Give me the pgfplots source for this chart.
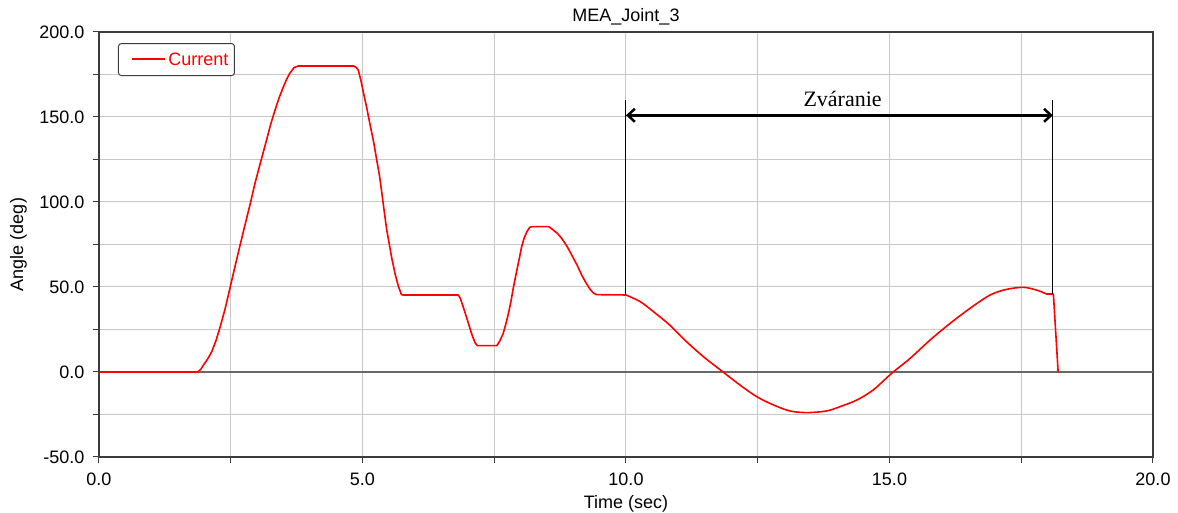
\documentclass[border=0pt]{standalone}
\usepackage{fontspec}
\setmainfont{Liberation Sans}
\newfontfamily\seriffont{Liberation Serif}
\usepackage{pgfplots}
\pgfplotsset{compat=1.18}
\usetikzlibrary{arrows.meta}
\definecolor{gridgray}{RGB}{200,200,200}
\definecolor{framegray}{RGB}{60,60,60}
\definecolor{zerogray}{RGB}{105,105,105}
\definecolor{curvered}{RGB}{255,0,0}
\begin{document}
\begin{tikzpicture}
\begin{axis}[
  at={(0,0)}, anchor=south west,
  scale only axis, width=1054pt, height=425pt,
  xmin=0, xmax=20, ymin=-50, ymax=200,
  xtick={0,5,10,15,20}, minor xtick={2.5,7.5,12.5,17.5},
  ytick={-50,0,50,100,150,200}, minor ytick={-25,25,75,125,175},
  grid=both,
  major grid style={gridgray, line width=1pt},
  minor grid style={gridgray, line width=1pt},
  tick pos=left, tick align=outside,
  major tick length=6pt, minor tick length=6pt,
  every tick/.style={framegray, line width=1pt},
  axis line style={framegray, line width=1.5pt},
  font=\fontsize{18}{21}\selectfont,
  ticklabel style={font=\fontsize{18}{21}\selectfont},
  yticklabel style={xshift=-5pt},
  xticklabel style={yshift=-6pt},
  /pgf/number format/assume math mode=true,
  /pgf/number format/fixed,
  /pgf/number format/fixed zerofill,
  /pgf/number format/precision=1,
  title={MEA\_Joint\_3},
  title style={at={(axis description cs:0.5,1)}, anchor=base, yshift=4.5pt, font=\fontsize{18}{21}\selectfont},
  xlabel={Time (sec)},
  xlabel style={at={(axis description cs:0.5,0)}, anchor=base, yshift=-52pt, font=\fontsize{18}{21}\selectfont},
  ylabel={Angle (deg)},
  ylabel style={at={(axis description cs:-0.0764,0.5)}, anchor=center, font=\fontsize{18}{21}\selectfont},
  legend style={at={(0.018,0.974)}, anchor=north west, draw=framegray, line width=1pt,
    rounded corners=3pt, text=curvered, font=\fontsize{18}{21}\selectfont,
    inner xsep=4pt, inner ysep=7pt},
  legend image code/.code={},
]
\draw[zerogray, line width=1.5pt] (axis cs:0,0) -- (axis cs:20,0);
\addplot[curvered, line width=1.6pt, line join=round, line cap=round] coordinates {
(0,0) (1.87,0) (1.93,1.5) (1.98,4) (2.06,7.5) (2.14,12) (2.22,18.5) (2.30,26.6)
(2.40,38) (2.49,50) (2.58,62) (2.67,73.7) (2.77,86.5) (2.87,99) (2.96,111)
(3.06,122.7) (3.18,136.5) (3.26,146) (3.34,154) (3.42,161.5) (3.50,167.8)
(3.56,172.2) (3.62,175.7) (3.70,179) (3.78,180) (4.83,180) (4.88,179.2)
(4.92,177.6) (4.97,171.5) (5.02,164) (5.08,155.5) (5.14,146) (5.21,135.5)
(5.27,124.7) (5.32,116) (5.36,107) (5.41,95) (5.46,83.5) (5.51,75) (5.55,67.8)
(5.62,57.5) (5.68,50.5) (5.74,45.5) (5.77,45.3) (6.82,45.3) (6.86,43) (6.91,38.4)
(6.96,33.5) (7.01,28.6) (7.05,24.5) (7.09,20.8) (7.14,17) (7.18,15.5) (7.55,15.5)
(7.61,18.5) (7.67,22.7) (7.72,28.3) (7.77,34.5) (7.82,42) (7.86,49.2) (7.93,60)
(7.98,67.5) (8.02,73.7) (8.07,79) (8.12,82.5) (8.17,85) (8.21,85.5) (8.53,85.5)
(8.57,84.8) (8.62,83.5) (8.70,81.5) (8.78,78.6) (8.88,74) (8.97,68.8) (9.07,63)
(9.16,57) (9.24,52.5) (9.32,48.6) (9.38,46.5) (9.44,45.5) (10.0,45.3)
};
\addlegendentry{\hspace{8pt}\textcolor{curvered}{\rule[5.5pt]{33pt}{1.6pt}}\hspace{3pt}Current\hspace{5pt}}
\addplot[curvered, line width=1.6pt, line join=round, line cap=round, smooth, tension=0.5, forget plot] coordinates {
(10.0,45.3)
(10.27,41.4) (10.52,35.5) (10.83,27.6) (11.15,17.8) (11.47,9) (11.85,-0.2)
(12.16,-7.6) (12.48,-14.5) (12.80,-19.4) (13.11,-22.9) (13.43,-23.9)
(13.81,-22.9) (14.06,-20.4) (14.38,-16.5) (14.69,-10.6) (15.04,-0.8)
(15.39,8) (15.77,18.8) (16.15,28.6) (16.53,37.5) (16.91,45.3) (17.22,48.6)
(17.54,49.8) (17.79,48.2) (17.98,45.9)
};
\addplot[curvered, line width=1.6pt, line join=round, line cap=round, forget plot] coordinates {
(17.98,45.9) (18.11,45.9) (18.20,0)
};
\draw[black, line width=1pt] (axis cs:10,160) -- (axis cs:10,45.3);
\draw[black, line width=1pt] (axis cs:18.1,160) -- (axis cs:18.1,45.9);
\draw[black, line width=2.5pt, {Straight Barb[length=7pt,width=13pt]}-{Straight Barb[length=7pt,width=13pt]}]
  (axis cs:10,151) -- (axis cs:18.1,151);
\node[anchor=base, font=\seriffont\fontsize{22}{26}\selectfont] at (axis cs:14.11,156) {Zváranie};
\end{axis}
\pgfresetboundingbox
\path[use as bounding box] (-99pt,-56pt) rectangle (1079pt,457pt);
\end{tikzpicture}
\end{document}
